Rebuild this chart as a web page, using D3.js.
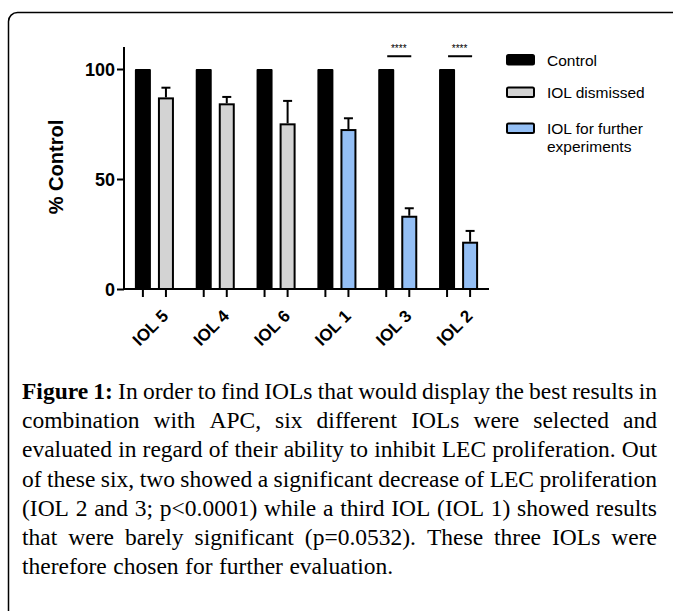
<!DOCTYPE html>
<html>
<head>
<meta charset="utf-8">
<script src="https://cdn.jsdelivr.net/npm/d3@7"></script>
<style>
  body { margin: 0; background: #fff; overflow: hidden; }
  svg { display: block; }
</style>
</head>
<body>
<div id="content"></div>
<script>
// data
var categories = ["IOL 5", "IOL 4", "IOL 6", "IOL 1", "IOL 3", "IOL 2"];
var controlValues = [100, 100, 100, 100, 100, 100];
var iolValues = [87.1, 84.4, 75.3, 72.7, 33.3, 21.5];
var iolErrors = [4.4, 2.9, 10.2, 4.9, 3.4, 4.9];
var iolGroups = ["dismissed", "dismissed", "dismissed", "further", "further", "further"];
var sigLabels = ["", "", "", "", "****", "****"];
var sigLevel = 105.8;
var yTicks = [0, 50, 100];
var legendLabels = [["Control"], ["IOL dismissed"], ["IOL for further", "experiments"]];
var captionLines = [
    "Figure 1: In order to find IOLs that would display the best results in",
    "combination with APC, six different IOLs were selected and",
    "evaluated in regard of their ability to inhibit LEC proliferation. Out",
    "of these six, two showed a significant decrease of LEC proliferation",
    "(IOL 2 and 3; p<0.0001) while a third IOL (IOL 1) showed results",
    "that were barely significant (p=0.0532). These three IOLs were",
    "therefore chosen for further evaluation."
];

var W = 673, H = 611;
var colors = {control: "#000000", dismissed: "#d3d3d3", further: "#94bff5"};
var sans = "'Liberation Sans', Arial, sans-serif";
var serif = "'Liberation Serif', 'Times New Roman', serif";

var svg = d3.select('#content')
    .append('svg')
    .attr('width', W)
    .attr('height', H);

// frame round the figure
svg.append('rect')
    .attr('x', 8.5).attr('y', 12.5)
    .attr('width', 720).attr('height', 720)
    .attr('rx', 9)
    .attr('fill', 'none')
    .attr('stroke', '#000')
    .attr('stroke-width', 1.5);

var x = d3.scaleBand()
    .domain(categories)
    .range([124, 489]);
var xSub = d3.scalePoint()
    .domain(["control", "iol"])
    .range([0, x.bandwidth()])
    .padding(0.82);
var y = d3.scaleLinear()
    .domain([0, 110])
    .range([289, 47]);

var barW = 14;
var chart = svg.append('g');

// control bars
chart.append('g')
    .selectAll('rect')
    .data(controlValues)
    .enter()
    .append('rect')
    .attr('x', function(d, i){ return x(categories[i]) + xSub("control") - barW / 2; })
    .attr('y', function(d){ return y(d) + 1; })
    .attr('width', barW)
    .attr('height', function(d){ return y(0) - y(d) - 1; })
    .attr('fill', colors.control)
    .attr('stroke', '#000')
    .attr('stroke-width', 2)
    .attr('stroke-linejoin', 'round');

// IOL bars
chart.append('g')
    .selectAll('rect')
    .data(iolValues)
    .enter()
    .append('rect')
    .attr('x', function(d, i){ return x(categories[i]) + xSub("iol") - barW / 2; })
    .attr('y', function(d){ return y(d) + 1; })
    .attr('width', barW)
    .attr('height', function(d){ return y(0) - y(d) - 1; })
    .attr('fill', function(d, i){ return colors[iolGroups[i]]; })
    .attr('stroke', '#000')
    .attr('stroke-width', 2);

// error bars (upper whisker only)
var err = chart.append('g')
    .attr('stroke', '#000')
    .attr('stroke-width', 2)
    .selectAll('g')
    .data(iolValues)
    .enter()
    .append('g');
err.append('line')
    .attr('x1', function(d, i){ return x(categories[i]) + xSub("iol"); })
    .attr('x2', function(d, i){ return x(categories[i]) + xSub("iol"); })
    .attr('y1', function(d){ return y(d); })
    .attr('y2', function(d, i){ return y(d + iolErrors[i]); });
err.append('line')
    .attr('x1', function(d, i){ return x(categories[i]) + xSub("iol") - 4.5; })
    .attr('x2', function(d, i){ return x(categories[i]) + xSub("iol") + 4.5; })
    .attr('y1', function(d, i){ return y(d + iolErrors[i]); })
    .attr('y2', function(d, i){ return y(d + iolErrors[i]); });

// axes
var yAxis = d3.axisLeft(y).tickValues(yTicks).tickSize(7).tickPadding(2);
var gy = svg.append('g')
    .attr('transform', 'translate(124,0)')
    .call(yAxis);
gy.select('.domain').attr('d', 'M0,' + y(110) + 'V' + y(0));
gy.selectAll('path, line').attr('stroke', '#000').attr('stroke-width', 2);
gy.selectAll('text')
    .attr('font-family', sans)
    .attr('font-weight', 'bold')
    .attr('font-size', 18)
    .attr('dy', '0.36em')
    .attr('fill', '#000');

svg.append('line')
    .attr('x1', 123).attr('x2', 489)
    .attr('y1', y(0)).attr('y2', y(0))
    .attr('stroke', '#000').attr('stroke-width', 2);

// x ticks under every bar
var tickXs = [];
categories.forEach(function(c){
    tickXs.push(x(c) + xSub("control"));
    tickXs.push(x(c) + xSub("iol"));
});
svg.append('g')
    .selectAll('line')
    .data(tickXs)
    .enter()
    .append('line')
    .attr('x1', function(d){ return d; })
    .attr('x2', function(d){ return d; })
    .attr('y1', y(0))
    .attr('y2', y(0) + 8)
    .attr('stroke', '#000')
    .attr('stroke-width', 2);

// rotated category labels
svg.append('g')
    .selectAll('text')
    .data(categories)
    .enter()
    .append('text')
    .attr('transform', function(d){
        return 'translate(' + (x(d) + x.bandwidth() / 2 + 15) + ',' + (y(0) + 28) + ') rotate(-45)';
    })
    .attr('text-anchor', 'end')
    .attr('font-family', sans)
    .attr('font-weight', 'bold')
    .attr('font-size', 17)
    .text(function(d){ return d; });

// y label
svg.append('text')
    .attr('transform', 'translate(63,' + 167 + ') rotate(-90)')
    .attr('text-anchor', 'middle')
    .attr('font-family', sans)
    .attr('font-weight', 'bold')
    .attr('font-size', 20)
    .text('% Control');

// significance marks
var sig = svg.append('g')
    .selectAll('g')
    .data(sigLabels.map(function(s, i){ return {s: s, c: categories[i]}; })
          .filter(function(d){ return d.s; }))
    .enter()
    .append('g');
sig.append('line')
    .attr('x1', function(d){ return x(d.c) + xSub("control") + 1; })
    .attr('x2', function(d){ return x(d.c) + xSub("iol") + 2; })
    .attr('y1', y(sigLevel))
    .attr('y2', y(sigLevel))
    .attr('stroke', '#000')
    .attr('stroke-width', 2);
sig.append('text')
    .attr('x', function(d){ return x(d.c) + x.bandwidth() / 2 + 1; })
    .attr('y', y(sigLevel) - 4)
    .attr('text-anchor', 'middle')
    .attr('font-family', sans)
    .attr('font-size', 10)
    .attr('fill', '#000')
    .text(function(d){ return d.s; });

// legend
var legendKeys = ["control", "dismissed", "further"];
var legendY = [65.5, 98, 134];
var leg = svg.append('g')
    .selectAll('g')
    .data(legendLabels)
    .enter()
    .append('g')
    .attr('transform', function(d, i){ return 'translate(0,' + legendY[i] + ')'; });
leg.append('rect')
    .attr('x', 507)
    .attr('y', -10.5)
    .attr('width', 27)
    .attr('height', 9.5)
    .attr('rx', 1.5)
    .attr('fill', function(d, i){ return colors[legendKeys[i]]; })
    .attr('stroke', '#000')
    .attr('stroke-width', 2);
leg.append('text')
    .attr('font-family', sans)
    .attr('font-size', 15.5)
    .selectAll('tspan')
    .data(function(d){ return d; })
    .enter()
    .append('tspan')
    .attr('x', 547)
    .attr('y', function(d, i){ return i * 18; })
    .text(function(d){ return d; });

// caption, justified word by word
var capLeft = 22, capRight = 657, capTop = 399, capStep = 29.2;
captionLines.forEach(function(line, li){
    var words = line.split(' ');
    var t = svg.append('text')
        .attr('font-family', serif)
        .attr('font-size', 23.5)
        .attr('y', capTop + li * capStep);
    var spans = words.map(function(w, wi){
        return t.append('tspan')
            .attr('font-weight', (li == 0 && wi < 2) ? 'bold' : 'normal')
            .text(w);
    });
    var widths = spans.map(function(s){ return s.node().getComputedTextLength(); });
    var total = widths.reduce(function(a, b){ return a + b; }, 0);
    var gap;
    if(li == captionLines.length - 1 || words.length < 2){
        gap = 6.5;
    }
    else{
        gap = (capRight - capLeft - total) / (words.length - 1);
    }
    var cx = capLeft;
    spans.forEach(function(s, i){
        s.attr('x', cx);
        cx += widths[i] + gap;
    });
});
</script>
</body>
</html>
